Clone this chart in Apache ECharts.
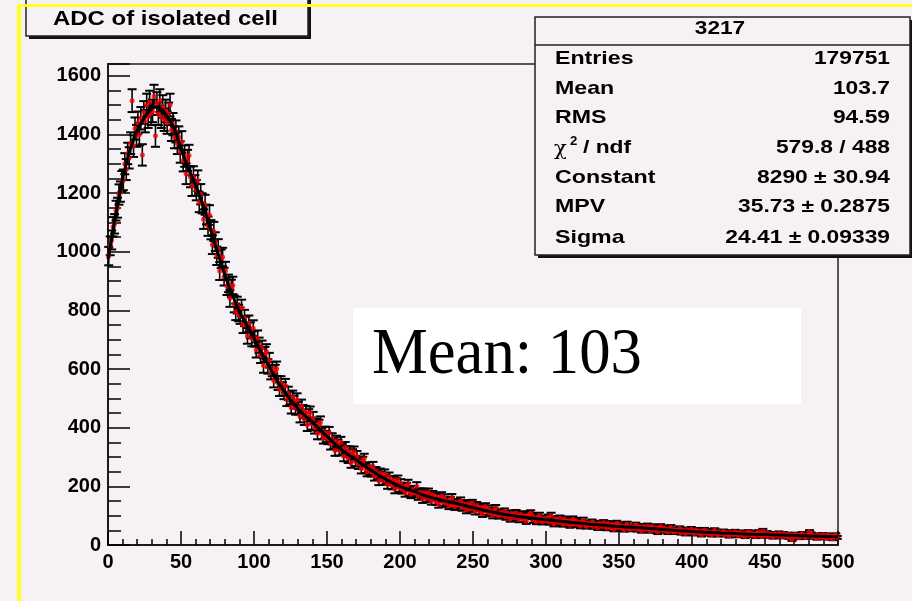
<!DOCTYPE html>
<html><head><meta charset="utf-8">
<script src="https://cdn.jsdelivr.net/npm/echarts@6/dist/echarts.min.js"></script>
<style>html,body{margin:0;padding:0;background:#f5f1f5}#c{width:912px;height:601px}</style>
</head><body><div id="c"></div>
<script>
// ---- data ----
const binStart = 0;
const binWidth = 1;
const counts = [
985,1020,1040,1085,1095,1140,1150,1195,1205,1240,
1245,1300,1280,1335,1320,1370,1515,1360,1420,1395,
1440,1400,1455,1330,1475,1445,1500,1460,1510,1470,
1480,1530,1395,1505,1470,1515,1460,1495,1450,1480,
1440,1470,1500,1415,1435,1390,1410,1370,1390,1340,
1374,1310,1326,1266,1311,1328,1255,1225,1256,1226,
1210,1242,1169,1196,1165,1111,1160,1127,1087,1125,
1075,1024,1069,1034,986,1011,934,976,982,915,
935,882,892,841,875,885,822,795,818,791,
782,808,750,774,751,713,755,732,704,739,
703,665,705,681,646,671,612,650,659,609,
630,589,600,561,590,601,552,531,552,532,
520,543,496,517,500,470,504,487,466,495,
467,439,474,456,430,453,409,442,451,414,
433,400,411,380,407,418,380,365,384,370,
363,383,344,362,347,322,354,341,323,350,
326,303,333,319,297,318,280,309,318,286,
303,276,285,260,284,294,261,250,266,255,
249,267,235,250,239,219,245,234,220,242,
225,206,232,220,204,220,190,213,222,195,
210,189,198,178,198,208,182,173,188,179,
177,200,167,180,173,156,179,171,159,179,
164,150,171,163,149,164,139,160,167,146,
160,142,150,134,152,161,139,131,145,138,
136,150,128,141,134,119,140,133,124,142,
128,115,135,127,115,128,106,125,131,113,
124,109,116,101,117,125,106,100,111,105,
102,114,96,107,101,89,107,102,94,109,
98,87,105,99,88,100,81,98,105,108,
99,85,92,80,94,100,84,79,90,84,
83,94,78,100,83,72,89,84,77,91,
82,71,88,82,73,83,67,81,88,72,
83,70,77,65,78,84,70,64,75,69,
69,78,63,72,68,59,74,70,63,76,
68,58,73,68,59,70,54,68,74,60,
69,58,64,53,66,71,58,54,62,58,
58,68,53,62,58,49,63,60,53,65,
58,49,63,58,50,59,44,58,63,50,
59,49,53,44,55,60,48,44,52,48,
47,56,42,51,47,39,52,48,43,54,
47,39,51,47,40,48,35,47,51,40,
48,39,43,35,45,50,38,35,43,40,
39,46,35,43,39,31,43,40,36,45,
39,32,43,40,33,41,29,40,44,35,
42,33,37,29,39,44,34,30,48,34,
33,41,30,37,33,27,38,35,31,40,
35,28,38,35,29,36,26,35,18,30,
36,29,33,25,34,38,29,26,33,30,
44,37,26,32,29,23,34,30,26,35,
30,24,34,31,24,31,21,31,34,26
];
const fitX = [0,2,4,6,8,10,12,14,16,18,20,22,24,26,28,30,32,34,36,38,40,42,44,46,48,50,55,60,65,70,75,80,86,90,97,100,109,120,131,140,150,160,170,180,190,200,210,220,230,240,250,260,270,280,290,300,310,320,330,340,350,360,370,380,390,400,420,440,460,480,500];
const fitY = [975,1030,1090,1145,1200,1250,1290,1330,1360,1390,1412,1432,1450,1465,1478,1488,1494,1493,1488,1478,1465,1450,1432,1412,1382,1352,1285,1225,1160,1080,1000,920,843,795,733,705,620,529,460,418,370,325,290,255,225,200,182,164,151,140,128,116,106,98,92,86,81,76,71,67,63,60,57,53,49,46,41,37,34,31,28];
const titleText = 'ADC of isolated cell';
const statsTitle = '3217';
const statsLabels = ['Entries', 'Mean', 'RMS', 'CHI', 'Constant', 'MPV', 'Sigma'];
const statsValues = ['179751', '103.7', '94.59', '579.8 / 488', '8290 \u00b1 30.94', '35.73 \u00b1 0.2875', '24.41 \u00b1 0.09339'];
const noteText = 'Mean: 103';

// ---- build ----
const BG = '#f5f1f5';
const SANS = '"Liberation Sans", Arial, Helvetica, sans-serif';
const points = counts.map((c, i) => [binStart + (i + 0.5) * binWidth, c]);
const errPts = counts.map((c, i) => [binStart + (i + 0.5) * binWidth, c, Math.sqrt(c)]);
const fitLine = fitX.map((x, i) => [x, fitY[i]]);

function txt(x, y, s, o) {
  o = o || {};
  return {
    type: 'text', x: x, y: y, scaleX: o.sx || 1, z: 120, silent: true,
    style: {
      text: s, x: 0, y: 0, fill: '#000',
      fontSize: o.size || 19, fontWeight: o.bold === false ? 'normal' : 'bold',
      fontStyle: o.italic ? 'italic' : 'normal',
      fontFamily: o.family || SANS,
      align: o.align || 'left', verticalAlign: 'middle',
      textAlign: o.align || 'left', textVerticalAlign: 'middle'
    }
  };
}

const graphics = [];
// title box
graphics.push({type: 'rect', z: 100, silent: true, shape: {x: 29, y: -10, width: 282, height: 49}, style: {fill: '#111'}});
graphics.push({type: 'rect', z: 101, silent: true, shape: {x: 26, y: -10, width: 282, height: 46}, style: {fill: BG, stroke: '#222', lineWidth: 1.5}});
graphics.push(txt(53, 19, titleText, {size: 21, sx: 1.14}));
// stats box
const SX = 535, SY = 17, SW = 375, SH = 238;
graphics.push({type: 'rect', z: 100, silent: true, shape: {x: SX + 3, y: SY + 3, width: SW, height: SH}, style: {fill: '#111'}});
graphics.push({type: 'rect', z: 101, silent: true, shape: {x: SX, y: SY, width: SW, height: SH}, style: {fill: BG, stroke: '#222', lineWidth: 1.5}});
graphics.push({type: 'line', z: 102, silent: true, shape: {x1: SX, y1: 45, x2: SX + SW, y2: 45}, style: {stroke: '#222', lineWidth: 1.5}});
graphics.push(txt(720, 29, statsTitle, {size: 19, sx: 1.19, align: 'center'}));
const rowY = [59, 88.5, 118, 148, 177.5, 207, 238];
statsLabels.forEach((lab, i) => {
  if (lab === 'CHI') {
    graphics.push(txt(554, rowY[i] + 2, '\u03c7', {size: 21, bold: false, family: '"DejaVu Serif", "Liberation Serif", serif'}));
    graphics.push(txt(570, rowY[i] - 6, '2', {size: 12, sx: 1.1}));
    graphics.push(txt(583, rowY[i], '/ ndf', {size: 19, sx: 1.2}));
  } else {
    graphics.push(txt(555, rowY[i], lab, {size: 19, sx: 1.22}));
  }
  graphics.push(txt(890, rowY[i], statsValues[i], {size: 19, sx: 1.2, align: 'right'}));
});
// white note box
graphics.push({type: 'rect', z: 100, silent: true, shape: {x: 353, y: 308, width: 448, height: 96}, style: {fill: '#ffffff'}});
graphics.push(txt(372, 356, noteText, {size: 66, bold: false, sx: 0.95, family: '"Liberation Serif", "Times New Roman", serif'}));
// yellow page border
graphics.push({type: 'rect', z: 130, silent: true, shape: {x: 17, y: 4, width: 895, height: 3}, style: {fill: '#ffff26'}});
graphics.push({type: 'rect', z: 130, silent: true, shape: {x: 17, y: 4, width: 4, height: 597}, style: {fill: '#ffff26'}});

const labelStyle = {color: '#000', fontFamily: SANS, fontWeight: 'bold', fontSize: 20};

const chart = echarts.init(document.getElementById('c'), null, {renderer: 'canvas'});
chart.setOption({
  backgroundColor: BG,
  animation: false,
  grid: {left: 108, right: 74, top: 64, bottom: 56, show: true, borderColor: '#222', borderWidth: 1.5, backgroundColor: 'transparent'},
  xAxis: {
    type: 'value', min: 0, max: 500, interval: 50,
    axisLine: {show: true, lineStyle: {color: '#1a1a1a', width: 2}},
    axisTick: {show: true, inside: true, length: 14, lineStyle: {color: '#000', width: 1.5}},
    minorTick: {show: true, splitNumber: 5, length: 6, lineStyle: {color: '#000', width: 1.5}},
    axisLabel: Object.assign({margin: 7}, labelStyle),
    splitLine: {show: false}, minorSplitLine: {show: false}
  },
  yAxis: [{
    type: 'value', min: 0, max: 1640, interval: 200, position: 'left',
    axisLine: {show: true, lineStyle: {color: '#1a1a1a', width: 2}},
    axisTick: {show: true, inside: true, length: 22, lineStyle: {color: '#000', width: 1.5}},
    axisLabel: Object.assign({margin: 7, formatter: v => (v % 200 === 0 ? String(v) : '')}, labelStyle),
    splitLine: {show: false}
  }, {
    type: 'value', min: 0, max: 1640, interval: 50, position: 'left', offset: 0,
    axisLine: {show: false},
    axisTick: {show: true, inside: true, length: 13, lineStyle: {color: '#000', width: 1.5}},
    axisLabel: {show: false},
    splitLine: {show: false}
  }],
  series: [{
    type: 'custom', z: 2, silent: true, data: errPts, encode: {x: 0, y: 1},
    renderItem: function (params, api) {
      const x = api.value(0), y = api.value(1), e = api.value(2);
      const t = api.coord([x, y + e]), b = api.coord([x, y - e]);
      const cap = 4.5;
      return {type: 'group', children: [
        {type: 'line', shape: {x1: t[0], y1: t[1], x2: b[0], y2: b[1]}, style: {stroke: '#000', lineWidth: 1.6}},
        {type: 'line', shape: {x1: t[0] - cap, y1: t[1], x2: t[0] + cap, y2: t[1]}, style: {stroke: '#000', lineWidth: 2}},
        {type: 'line', shape: {x1: b[0] - cap, y1: b[1], x2: b[0] + cap, y2: b[1]}, style: {stroke: '#000', lineWidth: 2}}
      ]};
    }
  }, {
    type: 'scatter', z: 3, silent: true, data: points, symbol: 'circle', symbolSize: 5,
    itemStyle: {color: '#ff0000'}
  }, {
    type: 'line', z: 4, silent: true, data: fitLine, showSymbol: false, smooth: 0.3,
    lineStyle: {color: '#000', width: 3}
  }],
  graphic: {elements: graphics}
});
</script></body></html>
